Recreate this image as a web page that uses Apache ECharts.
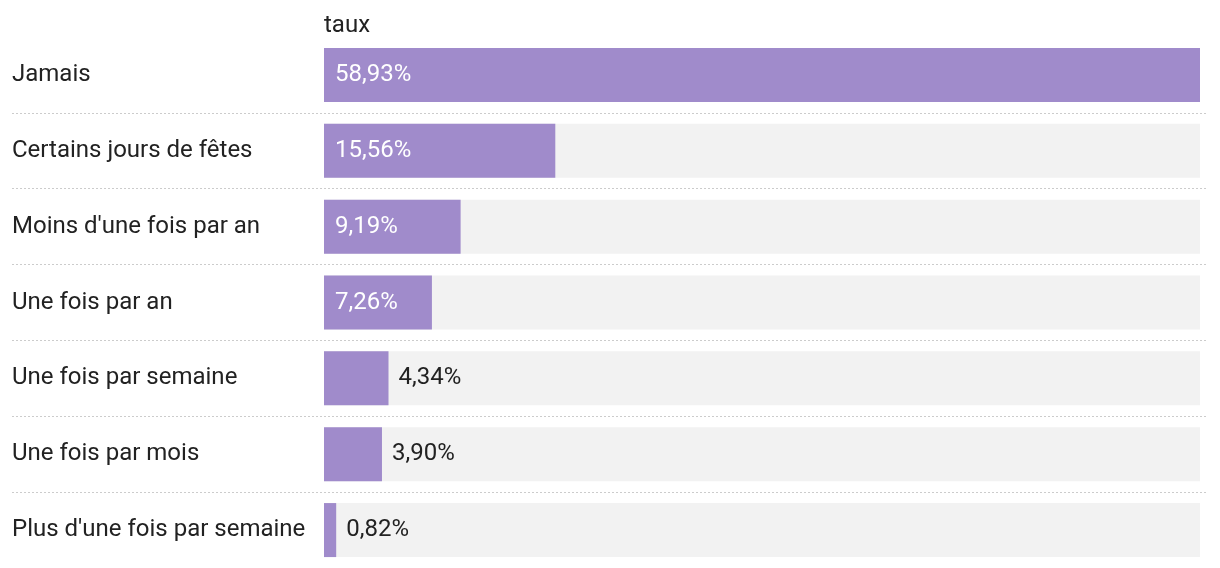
<!DOCTYPE html>
<html><head><meta charset="utf-8">
<script src="https://cdn.jsdelivr.net/npm/echarts@6/dist/echarts.min.js"></script>
<style>html,body{margin:0;padding:0;background:#fff}#c{width:1220px;height:568px}</style>
</head><body><div id="c"></div>
<script>
const categories = ["Jamais","Certains jours de fêtes","Moins d'une fois par an","Une fois par an","Une fois par semaine","Une fois par mois","Plus d'une fois par semaine"];
const values = [58.93,15.56,9.19,7.26,4.34,3.90,0.82];
const seriesName = "taux";

const fmt = v => v.toFixed(2).replace('.', ',') + '%';
const maxV = Math.max(...values);
const chart = echarts.init(document.getElementById('c'));
const font = 'Roboto';
chart.setOption({
  animation: false,
  title: {text: seriesName, left: 319, top: 9, padding: 5, textStyle: {fontFamily: font, fontSize: 24, fontWeight: 'normal', color: '#222', lineHeight: 24}},
  grid: [
    {left: 324, right: 20, top: 37, height: 532, containLabel: false},
    {left: 12, right: 12, top: 37, height: 532, containLabel: false}
  ],
  xAxis: [
    {gridIndex: 0, type: 'value', min: 0, max: maxV, show: false},
    {gridIndex: 1, type: 'value', min: 0, max: 1, show: false}
  ],
  yAxis: [
    {gridIndex: 0, type: 'category', data: categories, inverse: true,
     axisLine: {show: false}, axisTick: {show: false}, splitLine: {show: false},
     axisLabel: {align: 'left', margin: 312, fontFamily: font, fontSize: 24, color: '#222', padding: [2, 0, 0, 0]}},
    {gridIndex: 1, type: 'category', data: categories, inverse: true,
     axisLine: {show: false}, axisTick: {show: false}, axisLabel: {show: false},
     splitLine: {show: true, interval: (i) => i > 0, lineStyle: {type: [2, 2], color: '#cccccc', width: 1}}}
  ],
  series: [{
    type: 'bar', name: seriesName, xAxisIndex: 0, yAxisIndex: 0,
    barWidth: 54,
    showBackground: true,
    backgroundStyle: {color: '#f2f2f2'},
    itemStyle: {color: '#a08bcb'},
    data: values.map(v => ({
      value: v,
      label: v > 5
        ? {show: true, position: 'insideLeft', distance: 11, color: '#ffffff'}
        : {show: true, position: 'right', distance: 10, color: '#222'}
    })),
    label: {fontFamily: font, fontSize: 24, padding: [2, 0, 0, 0], formatter: p => fmt(p.value)}
  }]
});
</script></body></html>
